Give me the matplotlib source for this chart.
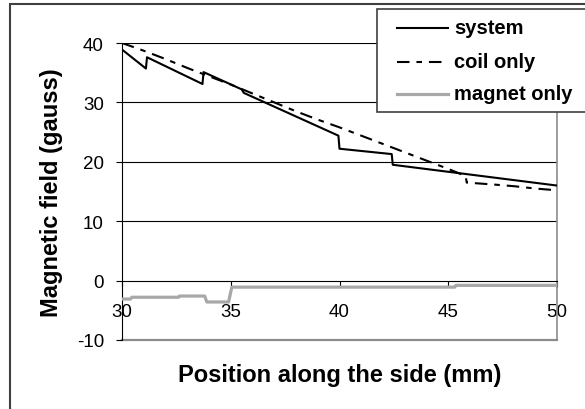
import matplotlib
matplotlib.use('Agg')
import matplotlib.pyplot as plt
from matplotlib.lines import Line2D
from matplotlib.patches import Rectangle

plt.rcParams['font.family'] = ['Liberation Sans', 'DejaVu Sans']
plt.rcParams['lines.scale_dashes'] = False
plt.rcParams['axes.unicode_minus'] = False

# data
sys_x = [30, 31.1, 31.15, 33.7, 33.75, 35.5, 35.6, 39.95, 40.0, 42.4, 42.45, 50]
sys_y = [38.9, 35.7, 37.6, 33.1, 35.1, 32.2, 31.6, 24.4, 22.2, 21.3, 19.5, 16.0]

coil_x = [30, 31, 32, 33, 34, 35, 36, 37, 38, 39, 40, 41, 42, 43, 44, 45,
          45.8, 45.85, 47, 48, 49, 50]
coil_y = [40.0, 38.7, 37.3, 35.8, 34.4, 33.0, 31.5, 30.0, 28.5, 27.1, 25.8, 24.4,
          23.0, 21.6, 20.2, 18.8, 17.6, 16.5, 16.2, 15.9, 15.5, 15.2]

mag_x = [30, 30.4, 30.45, 32.6, 32.65, 33.8, 33.9, 34.9, 35.05, 45.3, 45.35, 50]
mag_y = [-3.1, -3.1, -2.8, -2.8, -2.6, -2.6, -3.6, -3.6, -1.1, -1.1, -0.8, -0.8]

series_names = ['system', 'coil only', 'magnet only']
x_ticks = [30, 35, 40, 45, 50]
y_ticks = [-10, 0, 10, 20, 30, 40]

W, H = 585, 410
fig = plt.figure(figsize=(W / 100, H / 100), dpi=100)
ax = fig.add_axes([122 / W, 1 - 341 / H, 435 / W, 297 / H])

# outer chart frame
fig.add_artist(Rectangle((10 / W, -0.1), 1.1, 1 - 5 / H + 0.1, transform=fig.transFigure,
                         fill=False, edgecolor='#404040', lw=1.5))

for yv in [10, 20, 30, 40]:
    ax.axhline(yv, color='black', lw=0.8, zorder=1)
ax.axhline(-10, color='#8c8c8c', lw=1.6, zorder=1, clip_on=False)

ax.plot(mag_x, mag_y, color='#a8a8a8', lw=2.3, zorder=3)
ax.plot(coil_x, coil_y, color='black', lw=1.5, dashes=(9, 5, 4, 5), zorder=4)
ax.plot(sys_x, sys_y, color='black', lw=1.5, zorder=5)

ax.set_xlim(30, 50)
ax.set_ylim(-10, 40)
ax.set_xticks(x_ticks)
ax.set_yticks(y_ticks)

ax.spines['bottom'].set_position(('data', 0))
ax.spines['bottom'].set_linewidth(0.8)
ax.spines['left'].set_linewidth(0.8)
ax.spines['top'].set_visible(False)
ax.spines['right'].set_color('#8c8c8c')
ax.spines['right'].set_linewidth(1.2)

ax.tick_params(axis='x', direction='out', length=4, width=0.8, pad=12, labelsize=13.5)
ax.tick_params(axis='y', direction='out', length=4, width=0.8, pad=9, labelsize=13.5)

ax.set_xlabel('Position along the side (mm)', fontsize=17, fontweight='bold')
ax.set_ylabel('Magnetic field (gauss)', fontsize=17, fontweight='bold')
ax.xaxis.set_label_coords(0.5, -0.076)
ax.yaxis.set_label_coords(-0.136, 0.5)

# legend box drawn by hand so it can run off the right edge like the original
fig.add_artist(Rectangle((376.7 / W, 1 - 113 / H), 0.5, 103 / H, transform=fig.transFigure,
                         facecolor='white', edgecolor='#404040', lw=1.2, zorder=10))
styles = [dict(color='black', lw=1.5),
          dict(color='black', lw=1.5, dashes=(9, 5, 4, 5)),
          dict(color='#a8a8a8', lw=2.3)]
rows_y = [29, 63, 95]
for name, st, yy in zip(series_names, styles, rows_y):
    fy = 1 - yy / H
    fig.add_artist(Line2D([397 / W, 448 / W], [fy, fy], transform=fig.transFigure,
                          zorder=11, **st))
    fig.text(454 / W, fy, name, fontsize=14.5, fontweight='bold', va='center', ha='left',
             zorder=12)

fig.savefig('out.png', dpi=100)
